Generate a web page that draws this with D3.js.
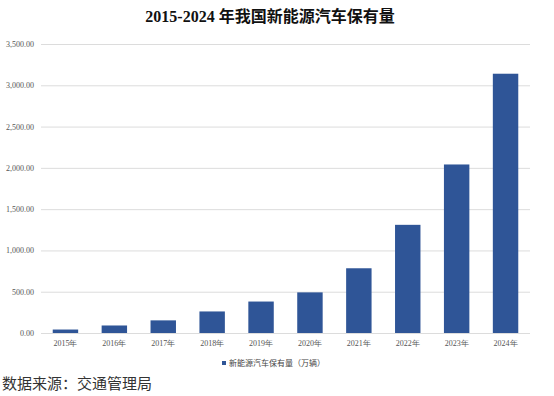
<!DOCTYPE html>
<html lang="zh">
  <head>
    <meta charset="utf-8">
    <title>2015-2024年我国新能源汽车保有量</title>
    <script src="https://cdnjs.cloudflare.com/ajax/libs/d3/7.8.5/d3.min.js"></script>
    <style>
      body { margin: 0; background: #fff; }
      .grid line { stroke: #dcdcdc; stroke-width: 1; }
      .grid path, .axisX path, .axisX line { display: none; }
      .axisY text, .axisX text { font-family: "Liberation Serif", serif; font-size: 8px; fill: #555; }
    </style>
  </head>
  <body>
    <div id="chartDiv"></div>
    <script>
      var years = ["2015年", "2016年", "2017年", "2018年", "2019年",
                   "2020年", "2021年", "2022年", "2023年", "2024年"]
      var stock = [42, 91, 153, 261, 381, 492, 784, 1310, 2041, 3140]
      var yTicks = [0, 500, 1000, 1500, 2000, 2500, 3000, 3500]
      var seriesName = "新能源汽车保有量（万辆）"

      var chartWd = 554
      var chartHt = 396
      var plotLeft = 41, plotRight = 530, plotTop = 44, plotBottom = 333

      var svg = d3.select("#chartDiv")
          .append("svg")
          .attr("width", chartWd)
          .attr("height", chartHt)

      svg.append("text")
         .attr("x", 270)
         .attr("y", 22)
         .attr("text-anchor", "middle")
         .attr("font-family", "'Liberation Serif', 'Noto Sans CJK SC', serif")
         .attr("font-weight", "bold")
         .attr("font-size", "16px")
         .attr("fill", "#111")
         .text("2015-2024 年我国新能源汽车保有量")

      var xScale = d3.scaleBand()
                     .domain(years)
                     .range([plotLeft, plotRight])
                     .paddingInner(0.48)
                     .paddingOuter(0.24)

      var yScale = d3.scaleLinear()
                     .domain([0, 3500])
                     .range([plotBottom, plotTop])

      // gridlines
      svg.append("g")
         .attr("class", "grid")
         .attr("transform", "translate(" + plotLeft + ",0)")
         .call(d3.axisLeft(yScale).tickValues(yTicks).tickSize(-(plotRight - plotLeft)).tickFormat(""))

      // y labels
      svg.append("g")
         .attr("class", "axisY")
         .attr("transform", "translate(" + (plotLeft - 4) + ",0)")
         .call(d3.axisLeft(yScale).tickValues(yTicks).tickSize(0).tickFormat(d3.format(",.2f")))
         .call(function(g) { g.select(".domain").remove() })

      svg.selectAll("rect.bar")
         .data(stock)
         .enter()
         .append("rect")
         .attr("class", "bar")
         .attr("x", function(d, i) { return xScale(years[i]) })
         .attr("y", function(d) { return yScale(d) })
         .attr("width", xScale.bandwidth())
         .attr("height", function(d) { return plotBottom - yScale(d) })
         .attr("fill", "#2f5597")

      svg.append("g")
         .attr("class", "axisX")
         .attr("transform", "translate(0," + plotBottom + ")")
         .call(d3.axisBottom(xScale).tickSize(0).tickPadding(7))

      // legend
      var legend = svg.append("g").attr("transform", "translate(222,366)")
      legend.append("rect")
            .attr("x", 0).attr("y", -5)
            .attr("width", 4).attr("height", 4)
            .attr("fill", "#2f5597")
      legend.append("text")
            .attr("x", 7).attr("y", 0)
            .attr("font-family", "'Liberation Serif', 'Noto Sans CJK SC', serif")
            .attr("font-size", "8px")
            .attr("fill", "#444")
            .text(seriesName)

      svg.append("text")
         .attr("x", 2)
         .attr("y", 389)
         .attr("font-family", "'Noto Sans CJK SC', sans-serif")
         .attr("font-size", "15px")
         .attr("fill", "#333")
         .text("数据来源：交通管理局")
    </script>
  </body>
</html>
